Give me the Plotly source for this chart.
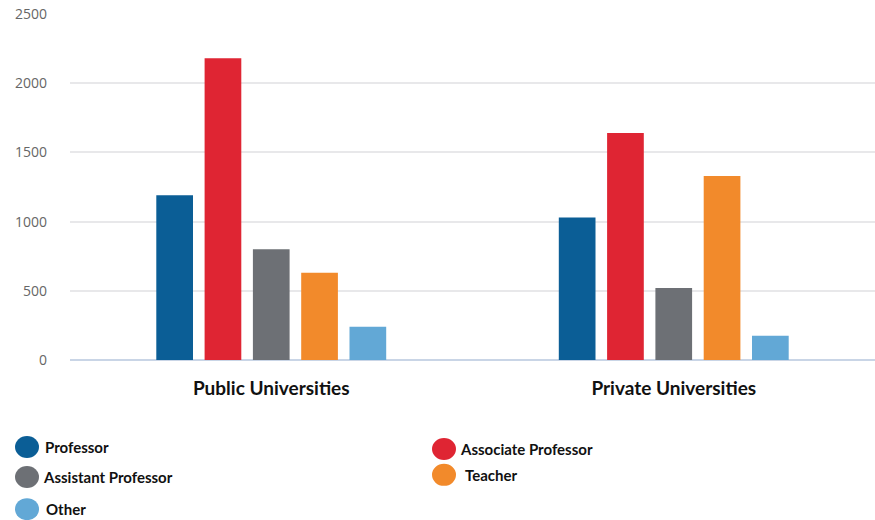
import plotly.graph_objects as go

categories = ["Public Universities", "Private Universities"]
series_names = ["Professor", "Associate Professor", "Assistant Professor", "Teacher", "Other"]
professor = [1190, 1030]
associate_professor = [2180, 1640]
assistant_professor = [800, 520]
teacher = [630, 1330]
other = [240, 175]
y_ticks = [0, 500, 1000, 1500, 2000, 2500]

values = [professor, associate_professor, assistant_professor, teacher, other]
colors = ["#0b5e96", "#df2533", "#6d7075", "#f28a2b", "#62a8d6"]

fig = go.Figure()
for name, vals, col in zip(series_names, values, colors):
    fig.add_trace(go.Bar(x=categories, y=vals, name=name, marker_color=col,
                         marker_line_width=0, showlegend=False))

# manual legend (circles + bold text)
legend_pos = [(-0.0534, -0.2514), (0.4646, -0.257), (-0.0534, -0.338), (0.4646, -0.332), (-0.0534, -0.431)]
text_dx = [10, 8, 8, 13, 11]
for (lx, ly), name, col, dx in zip(legend_pos, series_names, colors, text_dx):
    fig.add_shape(type="circle", xref="paper", yref="paper", xsizemode="pixel", ysizemode="pixel",
                  xanchor=lx, yanchor=ly, x0=-12, x1=12, y0=-11, y1=11,
                  fillcolor=col, line_width=0)
    fig.add_annotation(x=lx, y=ly, xref="paper", yref="paper", text=name, showarrow=False,
                       xanchor="left", yanchor="middle", xshift=dx + 6,
                       font=dict(family="Lato", size=15, color="#111111", weight="bold"))

fig.update_layout(
    width=875, height=520,
    margin=dict(l=70, r=0, t=14, b=160),
    paper_bgcolor="white", plot_bgcolor="white",
    barmode="group", bargap=0.4, bargroupgap=0.24,
    showlegend=False,
    xaxis=dict(showgrid=False, showline=False, ticks="", ticklabelstandoff=15,
               tickfont=dict(family="Lato", size=19, color="#111111", weight="bold")),
    yaxis=dict(range=[0, 2500], tickvals=y_ticks, showgrid=True, gridcolor="#e8e8ea", gridwidth=1.5,
               zeroline=True, zerolinecolor="#c9d5e6", zerolinewidth=1.5,
               showline=False, ticks="", ticklabelstandoff=22,
               tickfont=dict(family="Open Sans", size=14, color="#666666")),
)

fig.write_html("out.html")
